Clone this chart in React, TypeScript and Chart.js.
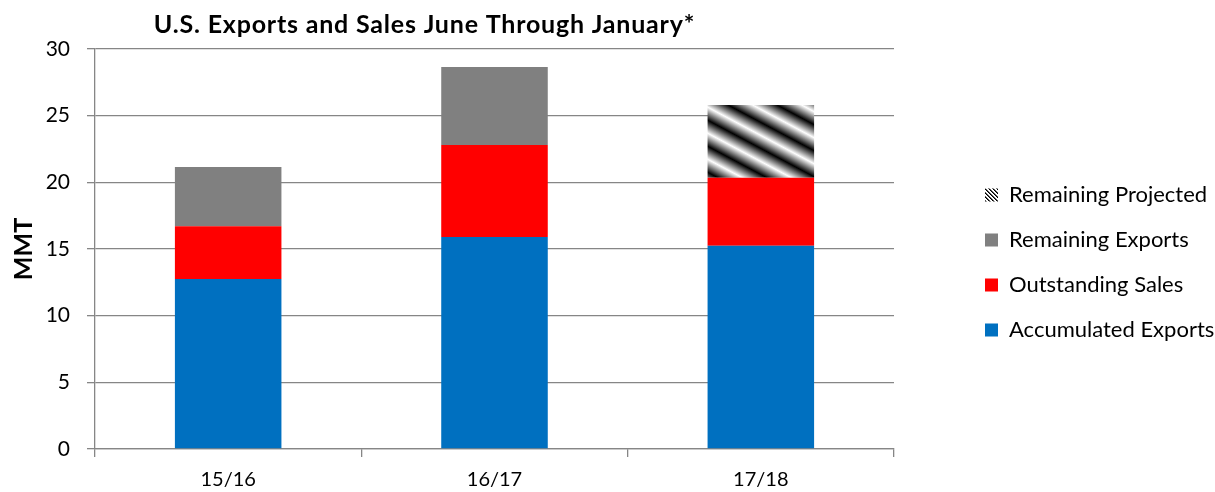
import React, { useEffect, useRef } from "react";
import { Chart, registerables } from "chart.js";

Chart.register(...registerables);

const CHART_TITLE = "U.S. Exports and Sales June Through January*";
const Y_TITLE = "MMT";
const categories = ["15/16", "16/17", "17/18"];
const seriesNames = ["Accumulated Exports", "Outstanding Sales", "Remaining Exports", "Remaining Projected"];
const accumulatedExports = [12.75, 15.9, 15.25];
const outstandingSales = [3.95, 6.9, 5.1];
const remainingExports: (number | null)[] = [4.45, 5.85, null];
const remainingProjected: (number | null)[] = [null, null, 5.45];
const yTicks = [0, 5, 10, 15, 20, 25, 30];

const FONT = "Lato, 'Open Sans', sans-serif";
const GRID = "#868686";
const W = 1215;
const H = 492;
const PLOT_RIGHT = 894;
const LEGEND_BOX_X = 985;
const LEGEND_FIRST_Y = 195;
const LEGEND_FONT = 22;
const LEGEND_PAD = 23;

function stripeGradient(ctx: CanvasRenderingContext2D) {
  const th = (28 * Math.PI) / 180;
  const nx = -Math.sin(th);
  const ny = Math.cos(th);
  const p0 = -700;
  const p1 = 600;
  const g = ctx.createLinearGradient(nx * p0, ny * p0, nx * p1, ny * p1);
  const period = 23;
  const phase = -237.6;
  const len = p1 - p0;
  const start = phase - Math.ceil((phase - p0) / period) * period;
  for (let p = start; p <= p1 + period; p += period) {
    const pts: [number, string][] = [
      [p, "#ffffff"],
      [p + period / 2, "#000000"],
    ];
    for (const [q, c] of pts) {
      const t = (q - p0) / len;
      if (t >= 0 && t <= 1) g.addColorStop(t, c);
    }
  }
  return g;
}

function legendPattern(): CanvasPattern | string {
  const c = document.createElement("canvas");
  c.width = 4;
  c.height = 4;
  const x = c.getContext("2d");
  if (!x) return "#555";
  x.fillStyle = "#ffffff";
  x.fillRect(0, 0, 4, 4);
  for (let i = 0; i < 4; i++) {
    x.fillStyle = "#000000";
    x.fillRect(i, i, 1, 1);
    x.fillStyle = "#555555";
    x.fillRect((i + 1) % 4, i, 1, 1);
  }
  const p = x.createPattern(c, "repeat");
  return p || "#555";
}

const titlePlugin = {
  id: "customTitle",
  afterDraw(chart: any) {
    const ctx = chart.ctx;
    ctx.save();
    ctx.font = `bold 25px ${FONT}`;
    try {
      (ctx as any).letterSpacing = "0.8px";
    } catch (e) {}
    ctx.fillStyle = "#000";
    ctx.textAlign = "center";
    ctx.textBaseline = "alphabetic";
    ctx.fillText(CHART_TITLE, 424.5, 33);
    ctx.restore();
  },
};

const legendPlace = {
  id: "legendPlace",
  afterLayout(chart: any) {
    const lg = chart.legend;
    if (!lg) return;
    const w = lg.width;
    const h = lg.height;
    lg.left = LEGEND_BOX_X - LEGEND_PAD;
    lg.right = lg.left + w;
    lg.top = LEGEND_FIRST_Y - LEGEND_FONT / 2 - LEGEND_PAD;
    lg.bottom = lg.top + h;
  },
};

export default function App() {
  const ref = useRef<HTMLCanvasElement | null>(null);
  useEffect(() => {
    if (!ref.current) return;
    const pattern = legendPattern();
    const chart = new Chart(ref.current, {
      type: "bar",
      data: {
        labels: categories,
        datasets: [
          { label: seriesNames[0], data: accumulatedExports, backgroundColor: "#0070C0" },
          { label: seriesNames[1], data: outstandingSales, backgroundColor: "#FF0000" },
          { label: seriesNames[2], data: remainingExports as any, backgroundColor: "#808080" },
          {
            label: seriesNames[3],
            data: remainingProjected as any,
            backgroundColor: (c: any) => stripeGradient(c.chart.ctx),
          },
        ],
      },
      options: {
        animation: false,
        responsive: false,
        maintainAspectRatio: false,
        layout: { padding: { top: 49, bottom: 0, left: 0, right: 0 } },
        datasets: { bar: { categoryPercentage: 1, barPercentage: 0.4, borderWidth: 0 } },
        plugins: {
          title: { display: false },
          tooltip: { enabled: false },
          legend: {
            position: "right",
            align: "start",
            reverse: true,
            labels: {
              boxWidth: 13,
              boxHeight: 13,
              padding: LEGEND_PAD,
              color: "#000",
              font: { family: FONT, size: LEGEND_FONT },
              generateLabels: (ch: any) => {
                const items = Chart.defaults.plugins.legend.labels.generateLabels(ch);
                return items.map((it: any) => {
                  if (it.datasetIndex === 3) it.fillStyle = pattern;
                  it.lineWidth = 0;
                  it.strokeStyle = "rgba(0,0,0,0)";
                  return it;
                });
              },
            },
          },
        },
        scales: {
          x: {
            stacked: true,
            grid: { display: true, drawOnChartArea: false, drawTicks: true, tickLength: 8, color: GRID, lineWidth: 1.3, offset: true },
            border: { display: true, color: GRID, width: 1.3 },
            ticks: { color: "#000", font: { family: FONT, size: 20 }, padding: 11 },
            afterFit: (s: any) => {
              s.height = H - 449;
            },
          },
          y: {
            stacked: true,
            min: yTicks[0],
            max: yTicks[yTicks.length - 1],
            ticks: { stepSize: yTicks[1] - yTicks[0], color: "#000", font: { family: FONT, size: 21 }, padding: 17 },
            grid: { color: GRID, lineWidth: 1.3, tickLength: 8, drawTicks: true },
            border: { display: true, color: GRID, width: 1.3 },
            title: {
              display: true,
              text: Y_TITLE,
              color: "#000",
              font: { family: FONT, size: 25, weight: "bold" },
              padding: { top: 9, bottom: 0 },
            },
            afterFit: (s: any) => {
              s.width = 95;
            },
          },
        },
      },
      plugins: [titlePlugin, legendPlace],
    });
    const delta = chart.chartArea.right - PLOT_RIGHT;
    if (Math.abs(delta) > 0.01) {
      (chart.options.layout as any).padding.right += delta;
      chart.update();
    }
    return () => chart.destroy();
  }, []);
  return (
    <div style={{ position: "fixed", left: 0, top: 0, width: W, height: H, background: "#fff" }}>
      <canvas ref={ref} width={W} height={H} style={{ display: "block" }} />
    </div>
  );
}
